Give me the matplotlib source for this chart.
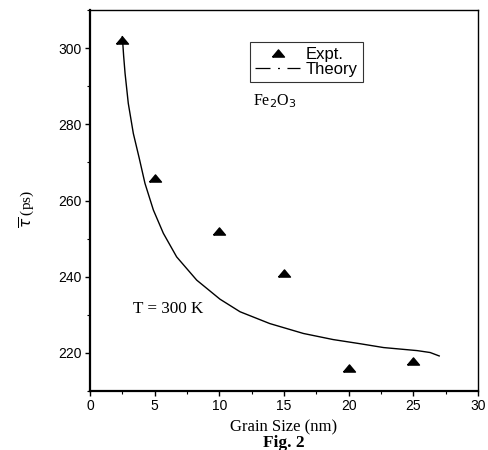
import matplotlib
matplotlib.use("Agg")
import matplotlib.pyplot as plt
from matplotlib.ticker import MultipleLocator
from matplotlib.lines import Line2D

plt.rcParams['lines.scale_dashes'] = False

# Experimental data
expt_x = [2.5, 5, 10, 15, 20, 25]
expt_y = [302, 266, 252, 241, 216, 218]

# Theory curve
theory_x = [2.5, 2.6, 2.71, 2.96, 3.35, 3.8, 4.25, 4.9, 5.67, 6.7, 8.25, 10.05, 11.6,
            13.9, 16.5, 18.8, 20.9, 22.7, 25.3, 26.3, 27.0]
theory_y = [303, 298, 293.4, 285.5, 277.6, 271.2, 264.5, 257.5, 251.4, 245.2, 239.1,
            234.1, 230.8, 227.7, 225.1, 223.5, 222.4, 221.4, 220.6, 220.1, 219.2]

xticks = [0, 5, 10, 15, 20, 25, 30]
yticks = [220, 240, 260, 280, 300]

sans = ['Liberation Sans', 'DejaVu Sans']
serif = ['Liberation Serif', 'DejaVu Serif']

# flattened triangle marker, as in the reference
tri = [(-1, -0.6), (1, -0.6), (0, 0.6), (-1, -0.6)]

fig = plt.figure(figsize=(4.88, 4.5), dpi=100)
ax = fig.add_axes([90/488, 59/450, 388/488, 381/450])

ax.plot(theory_x, theory_y, color='black', lw=1.0)
ax.plot(expt_x, expt_y, linestyle='none', marker=tri, color='black',
        markersize=8.6)

ax.set_xlim(0, 30)
ax.set_ylim(210, 310)
ax.set_xticks(xticks)
ax.set_yticks(yticks)
ax.xaxis.set_minor_locator(MultipleLocator(2.5))
ax.yaxis.set_minor_locator(MultipleLocator(10))
ax.tick_params(which='major', direction='out', length=3.6, width=1.0,
               top=False, right=False, labelsize=10, pad=2.5)
ax.tick_params(which='minor', direction='out', length=2.2, width=0.8,
               top=False, right=False)
for lab in ax.get_xticklabels() + ax.get_yticklabels():
    lab.set_family(sans)
for s in ['left', 'bottom']:
    ax.spines[s].set_linewidth(1.6)
for s in ['top', 'right']:
    ax.spines[s].set_linewidth(1.0)

ax.set_xlabel('Grain Size (nm)', family=serif, fontsize=12, labelpad=4)
ax.set_ylabel(r'$\overline{\tau}$ (ps)', family=serif, fontsize=11)
ax.yaxis.set_label_coords(-0.137, 0.478)

fig.text(284/488, 1 - 443/450, 'Fig. 2', family=serif, fontsize=12.5,
         fontweight='bold', ha='center', va='center')

ax.text(12.6, 286, r'Fe$_2$O$_3$', family=serif, fontsize=11.5,
        ha='left', va='center')
ax.text(3.3, 231.5, 'T = 300 K', family=serif, fontsize=12.3,
        ha='left', va='center')

h1 = Line2D([], [], linestyle='none', marker=tri, color='black', markersize=8.6)
h2 = Line2D([], [], color='black', lw=0.9, dashes=(10.8, 5.4, 1.4, 5.4))
leg = ax.legend([h1, h2], ['Expt.', 'Theory'], loc='upper left',
                bbox_to_anchor=((250-90)/388, (391-42)/381),
                prop={'family': sans, 'size': 12}, frameon=True,
                fancybox=False, edgecolor='black', handlelength=2.7,
                borderpad=0.3, labelspacing=0.0, handletextpad=0.35,
                borderaxespad=0)
leg.get_frame().set_linewidth(0.8)

fig.savefig('out.png', dpi=100)
